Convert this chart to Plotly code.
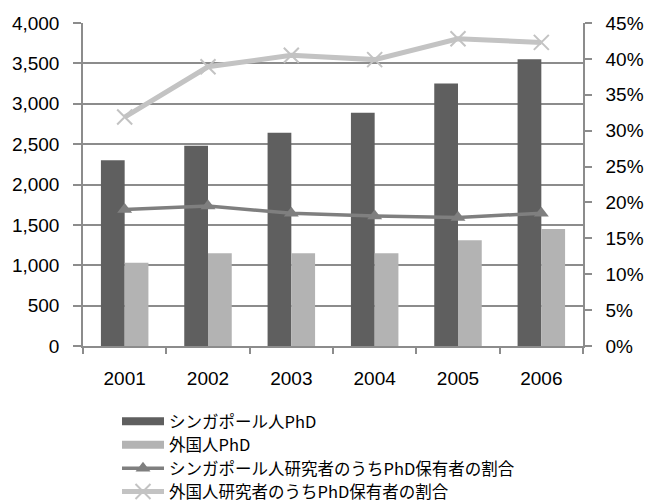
import plotly.graph_objects as go

# Data
years = ["2001", "2002", "2003", "2004", "2005", "2006"]
sg_phd = [2300, 2480, 2640, 2890, 3250, 3550]
foreign_phd = [1030, 1150, 1150, 1150, 1310, 1450]
sg_ratio = [0.190, 0.195, 0.185, 0.181, 0.179, 0.185]
foreign_ratio = [0.319, 0.389, 0.405, 0.399, 0.428, 0.423]

names = [
    "シンガポール人PhD",
    "外国人PhD",
    "シンガポール人研究者のうちPhD保有者の割合",
    "外国人研究者のうちPhD保有者の割合",
]

DARK = "#5f5f5f"
LIGHT = "#b3b3b3"
LINE_DARK = "#7f7f7f"
LINE_LIGHT = "#c3c3c3"
GRID = "#8c8c8c"
LATIN = "Liberation Sans, Arial, sans-serif"
CJK = "Noto Sans CJK JP, sans-serif"

W, H = 647, 502
legend_ids = ["legend", "legend2", "legend3", "legend4"]
legend_rows_px = [421.5, 445.0, 468.5, 491.8]   # row centres, px from top

fig = go.Figure()

fig.add_trace(go.Bar(x=years, y=sg_phd, marker=dict(color=DARK, line=dict(width=0)),
                     showlegend=False, yaxis="y"))
fig.add_trace(go.Bar(x=years, y=foreign_phd, marker=dict(color=LIGHT, line=dict(width=0)),
                     showlegend=False, yaxis="y"))

# legend swatches for the bar series (no visible points)
fig.add_trace(go.Scatter(x=years[:1], y=[None], mode="lines", name=names[0],
                         legend=legend_ids[0],
                         line=dict(color=DARK, width=8)))
fig.add_trace(go.Scatter(x=years[:1], y=[None], mode="lines", name=names[1],
                         legend=legend_ids[1],
                         line=dict(color=LIGHT, width=8)))

fig.add_trace(go.Scatter(x=years, y=sg_ratio, mode="lines+markers", name=names[2],
                         yaxis="y2", legend=legend_ids[2],
                         line=dict(color=LINE_DARK, width=3.5),
                         marker=dict(symbol="triangle-up", size=13, color=LINE_DARK)))
fig.add_trace(go.Scatter(x=years, y=foreign_ratio, mode="lines+markers", name=names[3],
                         yaxis="y2", legend=legend_ids[3],
                         line=dict(color=LINE_LIGHT, width=5),
                         marker=dict(symbol="x-thin", size=15,
                                     line=dict(color=LINE_LIGHT, width=2))))

legend_style = dict(
    xref="container", yref="container",
    x=117 / W, xanchor="left", yanchor="middle",
    itemwidth=42,
    font=dict(family=CJK, size=16.5, color="#000000"),
    bgcolor="rgba(0,0,0,0)",
)

layout_legends = {
    lid: dict(legend_style, y=1 - row / H)
    for lid, row in zip(legend_ids, legend_rows_px)
}

fig.update_layout(
    width=W, height=H,
    margin=dict(l=83, r=64, t=23, b=156, autoexpand=False),
    paper_bgcolor="white", plot_bgcolor="white",
    barmode="group", bargap=0.43, bargroupgap=0,
    font=dict(family=LATIN, size=19, color="#000000"),
    xaxis=dict(
        type="category", categoryorder="array", categoryarray=years,
        range=[-0.5, len(years) - 0.5],
        showline=True, linecolor=GRID, linewidth=1.5,
        ticks="outside", tickson="boundaries", ticklen=6, tickcolor=GRID, tickwidth=1.5,
        showgrid=False, ticklabelstandoff=14, tickangle=0,
        tickfont=dict(family=LATIN, size=19),
    ),
    yaxis=dict(
        range=[0, 4000], dtick=500, tickformat=",",
        showline=True, linecolor=GRID, linewidth=1.5,
        ticks="outside", ticklen=8, tickcolor=GRID, tickwidth=1.5,
        showgrid=True, gridcolor=GRID, gridwidth=1.5,
        zeroline=False, ticklabelstandoff=10,
        tickfont=dict(family=LATIN, size=19),
    ),
    yaxis2=dict(
        range=[0, 0.45], dtick=0.05, tickformat=".0%",
        overlaying="y", side="right",
        showline=True, linecolor=GRID, linewidth=1.5,
        ticks="outside", ticklen=7, tickcolor=GRID, tickwidth=1.5,
        showgrid=False, zeroline=False, ticklabelstandoff=10,
        tickfont=dict(family=LATIN, size=19),
    ),
    **layout_legends,
)

fig.write_html("out.html")
